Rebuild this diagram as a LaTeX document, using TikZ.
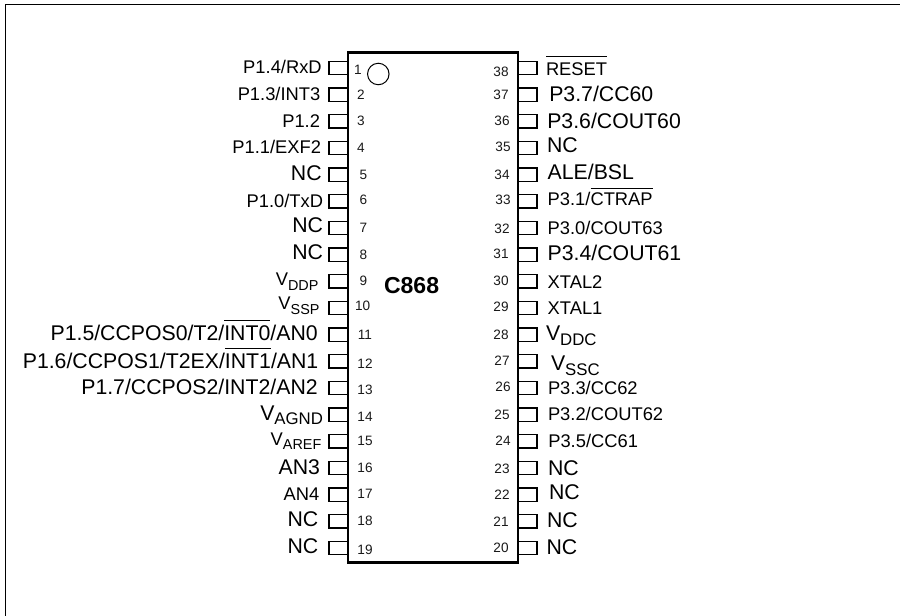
\documentclass[tikz,border=0pt]{standalone}
\usepackage{fontspec}
\setmainfont{Liberation Sans}
\newcommand\fsA{\fontsize{13.75pt}{15pt}\selectfont}
\newcommand\fsB{\fontsize{15.95pt}{17pt}\selectfont}
\newcommand\fsN{\fontsize{10.2pt}{12pt}\selectfont}
\newcommand\fsS{\fontsize{12.6pt}{14pt}\selectfont}
\newcommand\fsT{\fontsize{10.8pt}{12pt}\selectfont}
\newcommand\ovl[2]{\leavevmode\setbox0\hbox{#2}\rlap{\raisebox{#1}{\rule{\wd0}{0.85pt}}}\box0\relax}
\newcommand\subs[2]{\raisebox{-#1}{#2}}
% left label: id, right x, baseline, text
\newcommand\Ll[4]{\node[lab,anchor=base east] (l#1) at (#2,#3) {#4};}
% right label: id, left x, baseline, text
\newcommand\Lr[4]{\node[lab,anchor=base west] (l#1) at (#2,#3) {#4};}
% pin number: id, centre x, baseline
\newcommand\Nn[3]{\node[num] (n#1) at (#2,#3) {#1};}
\tikzset{
  lab/.style={inner sep=0pt,outer sep=0pt,black},
  num/.style={inner sep=0pt,outer sep=0pt,anchor=base,font=\fsN,black!90},
  chipbody/.style={draw=black,line width=1.9pt,inner sep=0pt,minimum width=127.5pt,minimum height=382.5pt},
  pinbox/.style={draw=black,line width=0.95pt},
  frameline/.style={draw=black,line width=0.7pt},
}
\begin{document}
\begin{tikzpicture}[x=0.75pt,y=-0.75pt]
\useasboundingbox (0,0) rectangle (900,616);
\draw[frameline] (900,4.5) -- (5.5,4.5) -- (5.5,616);
% pins
\foreach \i in {0,...,18}{
  \pgfmathsetmacro\py{68+\i*26.67}
  \draw[pinbox] (348,\py-6.7) -- (329,\py-6.7) -- (329,\py+6.7) -- (348,\py+6.7);
  \draw[pinbox] (518,\py-6.7) -- (537,\py-6.7) -- (537,\py+6.7) -- (518,\py+6.7);
}
\node[chipbody] (chip) at (433.2,307.3) {};
\node[draw=black,line width=0.75pt,circle,minimum size=21.5*0.75pt,inner sep=0pt] (dot) at (378.3,74) {};
\node[lab,anchor=base west,font=\fontsize{17.3pt}{19pt}\selectfont\bfseries] (name) at (384,294) {C868};
% left labels
\Ll{1}{321.7}{74}{\fsA P1.4/RxD}
\Ll{2}{320.3}{100.7}{\fsA P1.3/INT3}
\Ll{3}{320}{127.7}{\fsA P1.2}
\Ll{4}{321}{153.7}{\fsA P1.1/EXF2}
\Ll{5}{321.7}{181}{\fsB NC}
\Ll{6}{323}{207.3}{\fsA P1.0/TxD}
\Ll{7}{323}{232.7}{\fsB NC}
\Ll{8}{323}{260}{\fsB NC}
\Ll{9}{318.5}{286}{\fsA V\subs{3.5pt}{\fsT DDP}}
\Ll{10}{319.5}{309.5}{\fsA V\subs{3.5pt}{\fsT SSP}}
\Ll{11}{317.7}{341}{\fsB P1.5/CCPOS0/T2/\ovl{15pt}{INT0}/AN0}
\Ll{12}{318.3}{368.7}{\fsB P1.6/CCPOS1/T2EX/\ovl{15pt}{INT1}/AN1}
\Ll{13}{317.7}{394.3}{\fsB P1.7/CCPOS2/INT2/AN2}
\Ll{14}{323}{420.3}{\fsB V\subs{3pt}{\fsS AGND}}
\Ll{15}{321.3}{445.3}{\fsA V\subs{3pt}{\fsT AREF}}
\Ll{16}{320}{474.3}{\fsB AN3}
\Ll{17}{319.3}{500}{\fsA AN4}
\Ll{18}{318.3}{527}{\fsB NC}
\Ll{19}{318.3}{553.7}{\fsB NC}
% right labels
\Lr{38}{546}{75.3}{\fsA \ovl{13.8pt}{RESET}}
\Lr{37}{549.3}{101.7}{\fsB P3.7/CC60}
\Lr{36}{547.3}{128.3}{\fsB P3.6/COUT60}
\Lr{35}{547}{152.7}{\fsB NC}
\Lr{34}{547.7}{180}{\fsB ALE/BSL}
\Lr{33}{547.7}{206}{\fsA P3.1/\ovl{12.8pt}{CTRAP}}
\Lr{32}{547.7}{235}{\fsA P3.0/COUT63}
\Lr{31}{547.7}{260.7}{\fsB P3.4/COUT61}
\Lr{30}{547.7}{288.7}{\fsA XTAL2}
\Lr{29}{547.7}{315}{\fsA XTAL1}
\Lr{28}{546}{340.3}{\fsB V\subs{3.7pt}{\fsS DDC}}
\Lr{27}{551}{370.3}{\fsB V\subs{3.7pt}{\fsS SSC}}
\Lr{26}{548}{394.7}{\fsA P3.3/CC62}
\Lr{25}{548}{421}{\fsA P3.2/COUT62}
\Lr{24}{548.3}{448}{\fsA P3.5/CC61}
\Lr{23}{548}{475.3}{\fsB NC}
\Lr{22}{549}{499.3}{\fsB NC}
\Lr{21}{547}{527.7}{\fsB NC}
\Lr{20}{546.5}{554.3}{\fsB NC}
% pin numbers
\Nn{1}{358}{75}\Nn{2}{361}{99.3}\Nn{3}{361}{125.3}\Nn{4}{361}{152.7}
\Nn{5}{363.3}{179.3}\Nn{6}{363.3}{205}\Nn{7}{363.3}{232.3}\Nn{8}{363.3}{259.3}
\Nn{9}{363.3}{286}\Nn{10}{362.7}{311}\Nn{11}{365}{339.3}\Nn{12}{365}{368.3}
\Nn{13}{365}{395}\Nn{14}{365}{422}\Nn{15}{365}{445.3}\Nn{16}{365}{472.3}
\Nn{17}{365}{498.7}\Nn{18}{365}{525.3}\Nn{19}{365}{554.3}
\Nn{38}{501}{77}\Nn{37}{501}{99.3}\Nn{36}{502}{126}\Nn{35}{503}{151.7}
\Nn{34}{502}{179.3}\Nn{33}{503}{205}\Nn{32}{502}{233.3}\Nn{31}{501}{259}
\Nn{30}{501}{286}\Nn{29}{501}{312}\Nn{28}{501}{339.3}\Nn{27}{502}{366}
\Nn{26}{503}{391.7}\Nn{25}{502}{419.3}\Nn{24}{503}{445.3}\Nn{23}{502}{473.3}
\Nn{22}{502}{499.3}\Nn{21}{501}{526.7}\Nn{20}{501}{552}
\end{tikzpicture}
\end{document}
